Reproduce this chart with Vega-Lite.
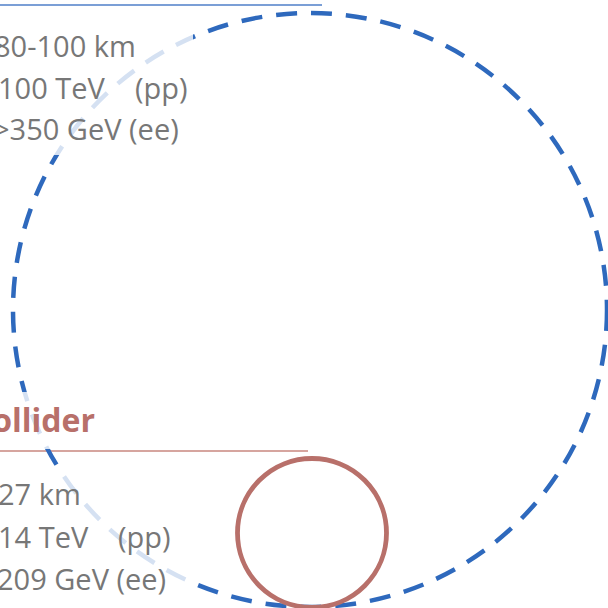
{
  "$schema": "https://vega.github.io/schema/vega-lite/v6.json",
  "width": 608,
  "height": 608,
  "padding": 0,
  "autosize": {"type": "none"},
  "background": "white",
  "config": {"view": {"stroke": null}},
  "datasets": {
    "rules": [
      {"collider": "FCC", "x": -10, "x2": 322, "y": 5},
      {"collider": "LHC", "x": -10, "x2": 308, "y": 451}
    ],
    "rings": [
      {"collider": "FCC", "cx": 310, "cy": 310},
      {"collider": "LHC", "cx": 312, "cy": 533}
    ],
    "boxes": [
      {"x": -10, "x2": 193, "y": 10, "y2": 155},
      {"x": -10, "x2": 193, "y": 392, "y2": 449},
      {"x": -10, "x2": 193, "y": 467, "y2": 597}
    ],
    "labels": [
      {"x": -6, "y": 57, "text": "80-100 km"},
      {"x": -2, "y": 99, "text": "100 TeV"},
      {"x": 135, "y": 99, "text": "(pp)"},
      {"x": -7, "y": 140, "text": ">350 GeV (ee)"},
      {"x": -2, "y": 505, "text": "27 km"},
      {"x": -2, "y": 548, "text": "14 TeV"},
      {"x": 118, "y": 548, "text": "(pp)"},
      {"x": -3, "y": 590, "text": "209 GeV (ee)"}
    ],
    "headings": [
      {"x": 95, "y": 432, "text": "Large Hadron Collider"}
    ]
  },
  "layer": [
    {
      "data": {"name": "rules"},
      "mark": {"type": "rule", "strokeWidth": 1.6},
      "encoding": {
        "x": {"field": "x", "type": "quantitative", "scale": {"domain": [0, 608], "nice": false, "zero": false}, "axis": null},
        "x2": {"field": "x2"},
        "y": {"field": "y", "type": "quantitative", "scale": {"domain": [0, 608], "nice": false, "zero": false, "reverse": true}, "axis": null},
        "color": {"field": "collider", "type": "nominal", "scale": {"domain": ["FCC", "LHC"], "range": ["#4f7fc8", "#c9877f"]}, "legend": null}
      }
    },
    {
      "data": {"name": "rings"},
      "transform": [{"filter": "datum.collider == 'FCC'"}],
      "mark": {"type": "point", "shape": "circle", "filled": false, "size": 352836, "stroke": "#2e69bd", "strokeWidth": 4.5, "strokeDash": [21, 14], "opacity": 1},
      "encoding": {
        "x": {"field": "cx", "type": "quantitative"},
        "y": {"field": "cy", "type": "quantitative"}
      }
    },
    {
      "data": {"name": "rings"},
      "transform": [{"filter": "datum.collider == 'LHC'"}],
      "mark": {"type": "point", "shape": "circle", "filled": false, "size": 22201, "stroke": "#b8706a", "strokeWidth": 4.8, "opacity": 1},
      "encoding": {
        "x": {"field": "cx", "type": "quantitative"},
        "y": {"field": "cy", "type": "quantitative"}
      }
    },
    {
      "data": {"name": "boxes"},
      "mark": {"type": "rect", "fill": "white", "opacity": 0.8},
      "encoding": {
        "x": {"field": "x", "type": "quantitative"},
        "x2": {"field": "x2"},
        "y": {"field": "y", "type": "quantitative"},
        "y2": {"field": "y2"}
      }
    },
    {
      "data": {"name": "labels"},
      "mark": {"type": "text", "align": "left", "baseline": "alphabetic", "font": "Open Sans", "fontSize": 29, "color": "#777777"},
      "encoding": {
        "x": {"field": "x", "type": "quantitative"},
        "y": {"field": "y", "type": "quantitative"},
        "text": {"field": "text"}
      }
    },
    {
      "data": {"name": "headings"},
      "mark": {"type": "text", "align": "right", "baseline": "alphabetic", "font": "Open Sans", "fontSize": 32, "fontWeight": "bold", "color": "#b8706a"},
      "encoding": {
        "x": {"field": "x", "type": "quantitative"},
        "y": {"field": "y", "type": "quantitative"},
        "text": {"field": "text"}
      }
    }
  ]
}
